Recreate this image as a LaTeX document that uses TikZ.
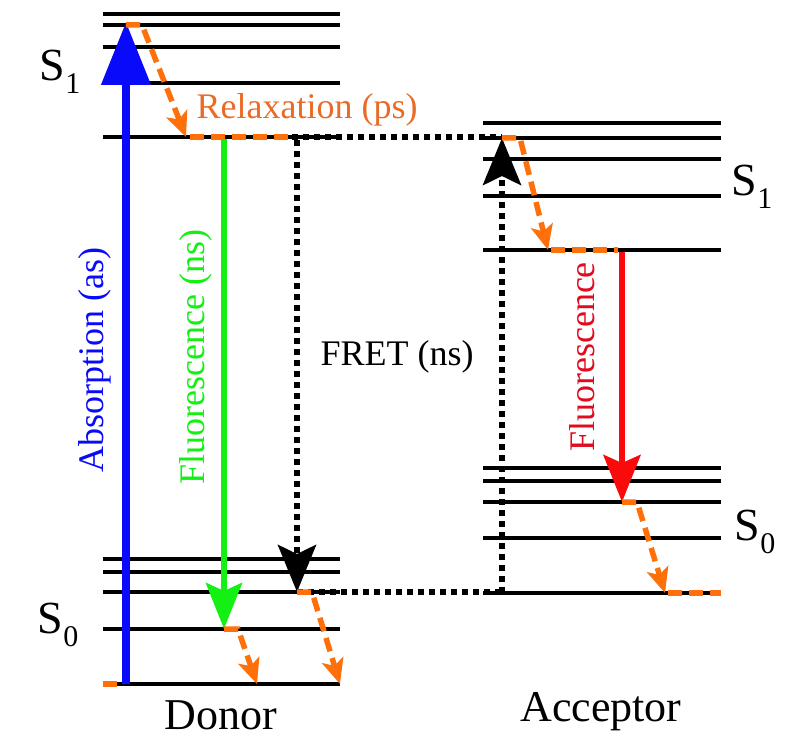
\documentclass[tikz,border=0pt]{standalone}
\usepackage{fontspec}
\setmainfont{Liberation Serif}
\usetikzlibrary{arrows.meta}
\definecolor{orng}{RGB}{255,112,10}
\definecolor{orngtxt}{RGB}{232,108,40}
\definecolor{grn}{RGB}{20,240,20}
\definecolor{rd}{RGB}{250,10,10}
\definecolor{rdtxt}{RGB}{225,10,30}
\definecolor{bl}{RGB}{10,10,250}
\newcommand{\lvlS}[1]{S\raisebox{-0.28em}{\fontsize{30}{30}\selectfont #1}}
\begin{document}
\begin{tikzpicture}[x=1pt,y=-1pt,
  level/.style={line width=4.5pt,black},
  relax/.style={line width=5.5pt,orng,dash pattern=on 14pt off 7pt},
  relaxarrow/.style={relax,-{Stealth[length=25pt,width=22pt,inset=6pt]}},
  fret/.style={line width=6pt,black,dash pattern=on 6pt off 5pt},
  fretarrow/.style={fret,-{Stealth[length=47pt,width=38pt,inset=9pt]}},
  lbl/.style={font=\fontsize{36}{40}\selectfont,inner sep=0pt},
  big/.style={font=\fontsize{44}{48}\selectfont,inner sep=0pt},
  slbl/.style={font=\fontsize{46}{48}\selectfont,inner sep=0pt}]
\useasboundingbox (0,0) rectangle (789,746);
% energy levels
\foreach \y in {14,25,47,83,137,559,572,592,629,684}
  \draw[level] (103,\y) -- (340,\y);
\foreach \y in {123,138,159,196,250,468,481,502,538,593}
  \draw[level] (483,\y) -- (721,\y);
% coordinates
\coordinate (absB) at (126,684);
\coordinate (absT) at (126,22);
\coordinate (dS1hi) at (126,25);
\coordinate (dS1hiR) at (142,25);
\coordinate (dS1lo) at (186,137);
\coordinate (dS1loA) at (190,137);
\coordinate (dS1loB) at (292,137);
\coordinate (flT) at (224,139);
\coordinate (flB) at (224,629);
\coordinate (flBR) at (238,629);
\coordinate (flE) at (257,684);
\coordinate (frT) at (297,140);
\coordinate (frB) at (297,592);
\coordinate (frBR) at (312,592);
\coordinate (frE) at (340,684);
\coordinate (bl0) at (103,684);
\coordinate (bl1) at (117,684);
\coordinate (aS0) at (502,593);
\coordinate (aS0b) at (502,592);
\coordinate (aS1) at (502,138);
\coordinate (aS1R) at (520,138);
\coordinate (aS1lo) at (548,250);
\coordinate (aS1loA) at (551,250);
\coordinate (aS1loB) at (618,250);
\coordinate (rfT) at (622,252);
\coordinate (rfB) at (622,502);
\coordinate (rfBR) at (637,502);
\coordinate (aS0lo) at (665,593);
\coordinate (aS0loA) at (668,593);
\coordinate (aS0loB) at (721,593);
\coordinate (dotR) at (502,137);
% FRET dotted
\draw[fret] (dS1loB) -- (dotR);
\draw[fret] (frB) -- (aS0b);
\draw[fretarrow] (frT) -- (frB);
\draw[fretarrow] (aS0) -- (aS1);
% absorption
\draw[bl,line width=8pt,-{Triangle[length=63pt,width=48pt]}] (absB) -- (absT);
% fluorescence
\draw[grn,line width=6pt,-{Stealth[length=46pt,width=36pt,inset=8pt]}] (flT) -- (flB);
\draw[rd,line width=6pt,-{Stealth[length=47pt,width=37pt,inset=8pt]}] (rfT) -- (rfB);
% relaxation
\draw[relaxarrow] (dS1hi) -- (dS1hiR) -- (dS1lo);
\draw[relax] (dS1loA) -- (dS1loB);
\draw[relaxarrow] (flB) -- (flBR) -- (flE);
\draw[relaxarrow] (frB) -- (frBR) -- (frE);
\draw[relax,solid] (bl0) -- (bl1);
\draw[relaxarrow] (aS1) -- (aS1R) -- (aS1lo);
\draw[relax] (aS1loA) -- (aS1loB);
\draw[relaxarrow] (rfB) -- (rfBR) -- (aS0lo);
\draw[relax] (aS0loA) -- (aS0loB);
% labels
\node[slbl] (ds1) at (60,72) {\lvlS{1}};
\node[slbl] (ds0) at (58,625) {\lvlS{0}};
\node[slbl] (as1) at (752,187) {\lvlS{1}};
\node[slbl] (as0) at (755,532) {\lvlS{0}};
\node[lbl,text=orngtxt] (rel) at (307,110) {Relaxation (ps)};
\node[lbl] (fretl) at (397,357) {FRET (ns)};
\node[big] (don) at (221,715) {Donor};
\node[big] (acc) at (601,712) {Acceptor};
\node[lbl,text=bl,rotate=90] (absl) at (95,360) {Absorption (as)};
\node[lbl,text=grn,rotate=90] (fll) at (196,357) {Fluorescence (ns)};
\node[lbl,text=rdtxt,rotate=90] (rfl) at (582,357) {Fluorescence};
\end{tikzpicture}
\end{document}
